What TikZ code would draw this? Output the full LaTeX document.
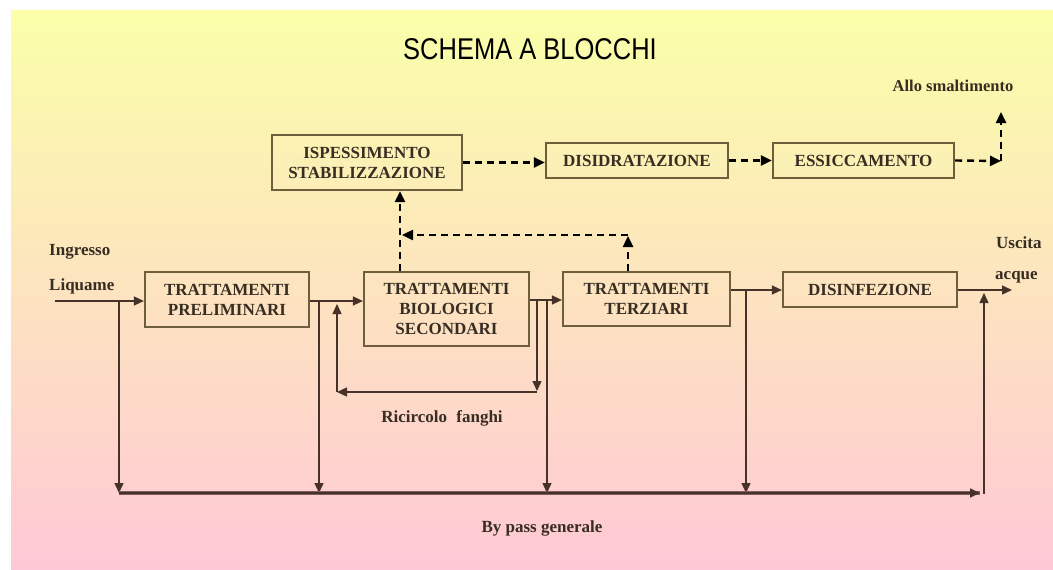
\documentclass[tikz,border=0pt]{standalone}
\usepackage{fontspec}
\setmainfont{Liberation Serif}
\newfontfamily\titlefont{Liberation Sans}
\usetikzlibrary{arrows.meta}
\definecolor{bgtop}{RGB}{250,255,168}
\definecolor{bgbot}{RGB}{255,200,214}
\definecolor{boxline}{RGB}{110,95,60}
\definecolor{conn}{RGB}{70,50,40}
\definecolor{boxtext}{RGB}{55,45,35}
\tikzset{
  x=1pt, y=-1pt,
  blk/.style={draw=boxline, line width=2.2pt, rectangle, inner sep=0pt, align=center,
    font=\fontsize{17}{20}\selectfont\bfseries, text=boxtext},
  arr/.style={draw=conn, line width=1.4pt, -{Triangle[length=10pt,width=9pt]}},
  ln/.style={draw=conn, line width=1.4pt},
  dsh/.style={draw=black, line width=2.4pt, dash pattern=on 7pt off 5pt, -{Triangle[length=11pt,width=10pt]}},
  lbl/.style={font=\fontsize{17}{20}\selectfont\bfseries, text=boxtext, inner sep=0pt},
}
\begin{document}
\begin{tikzpicture}
\useasboundingbox (0,0) rectangle (1053,570);
\shade[top color=bgtop, bottom color=bgbot] (11,10) rectangle (1053,570);

\node[inner sep=0pt] (title) at (530,49) {\titlefont\fontsize{30}{32}\selectfont\scalebox{0.85}[1]{SCHEMA A BLOCCHI}};

% boxes
\node[blk, minimum width=164, minimum height=55] (PRE) at (227,299.5) {TRATTAMENTI\\PRELIMINARI};
\node[blk, minimum width=165, minimum height=74] (BIO) at (446.5,309) {TRATTAMENTI\\BIOLOGICI\\SECONDARI};
\node[blk, minimum width=167, minimum height=54] (TER) at (646.5,299) {TRATTAMENTI\\TERZIARI};
\node[blk, minimum width=174, minimum height=35] (DES) at (870,289.5) {DISINFEZIONE};
\node[blk, minimum width=190, minimum height=55] (ISP) at (367,162.5) {ISPESSIMENTO\\STABILIZZAZIONE};
\node[blk, minimum width=182, minimum height=35] (DIS) at (637,160.5) {DISIDRATAZIONE};
\node[blk, minimum width=181, minimum height=35] (ESS) at (863.5,160.5) {ESSICCAMENTO};

% labels
\node[lbl, anchor=west] (ing) at (49,252) {Ingresso};
\node[lbl, anchor=west] (liq) at (49,286) {Liquame};
\node[lbl, anchor=west] (usc) at (996,243) {Uscita};
\node[lbl, anchor=west] (acq) at (995,277) {acque};
\node[lbl, font=\fontsize{16.5}{20}\selectfont\bfseries] (allo) at (953,86) {Allo smaltimento};
\node[lbl] (ric) at (442,418) {Ricircolo\hspace{0.3em} fanghi};
\node[lbl] (byp) at (542,528) {By pass generale};

% coordinates
\coordinate (in1) at (55,301);
\coordinate (j1) at (119,301);
\coordinate (j2) at (319,301);
\coordinate (r1) at (337,392);
\coordinate (r1t) at (337,304);
\coordinate (j3) at (537,300);
\coordinate (r2) at (537,391);
\coordinate (j4) at (547,300);
\coordinate (j5) at (746,290);
\coordinate (out) at (1012,290);
\coordinate (b1) at (119,493);
\coordinate (b2) at (319,493);
\coordinate (b3) at (547,493);
\coordinate (b4) at (746,493);
\coordinate (bend) at (980,493);
\coordinate (b5) at (984,494);
\coordinate (b5t) at (984,293);
\coordinate (dx) at (1001,161);
\coordinate (dxt) at (1001,112);
\coordinate (bx) at (400,0);
\coordinate (tx) at (628,236);
\coordinate (tl) at (628,235);
\coordinate (tle) at (402,235);

% main line
\draw[arr] (in1) -- (in1 -| PRE.west);
\draw[arr] (PRE.east |- j2) -- (BIO.west |- j2);
\draw[arr] (BIO.east |- j3) -- (TER.west |- j3);
\draw[arr] (TER.east |- j5) -- (DES.west |- j5);
\draw[arr] (DES.east |- out) -- (out);

% bypass verticals
\draw[arr] (j1) -- (b1);
\draw[arr] (j2) -- (b2);
\draw[arr] (j4) -- (b3);
\draw[arr] (j5) -- (b4);
\draw[draw=conn!70!bgbot, line width=3.4pt] (b1) -- (bend);
\draw[arr, line width=1.6pt] (b1) -- (bend);
\draw[arr] (b5) -- (b5t);

% recirculation
\draw[arr] (j3) -- (r2);
\draw[arr] (r2 |- r1) -- (r1);
\draw[arr] (r1) -- (r1t);

% sludge line (dashed)
\draw[dsh] (ISP.east) -- (ISP.east -| DIS.west);
\draw[dsh] (DIS.east) -- (ESS.west);
\draw[dsh] (ESS.east) -- (dx);
\draw[dsh] (dx) -- (dxt);
\draw[dsh] (BIO.north -| bx) -- (ISP.south -| bx);
\draw[dsh] (TER.north -| tx) -- (tx);
\draw[dsh] (tl) -- (tle);
\end{tikzpicture}
\end{document}
